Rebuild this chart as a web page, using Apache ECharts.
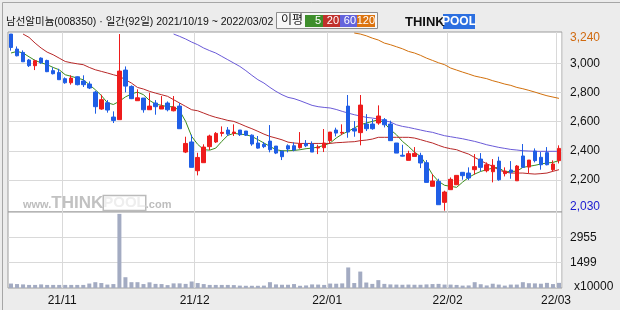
<!DOCTYPE html>
<html><head><meta charset="utf-8">
<script src="https://cdn.jsdelivr.net/npm/echarts@6/dist/echarts.min.js"></script>
<style>html,body{margin:0;padding:0;background:#ececec}#c{width:620px;height:310px}</style>
</head><body><div id="c"></div>
<script>
// trading days per month (2021/10/19 ~ 2022/03/02, 92 days)
const monthDays = [
  ['2021/10', [19,20,21,22,25,26,27,28,29]],
  ['2021/11', [1,2,3,4,5,8,9,10,11,12,15,16,17,18,19,22,23,24,25,26,29,30]],
  ['2021/12', [1,2,3,6,7,8,9,10,13,14,15,16,17,20,21,22,23,24,27,28,29,30]],
  ['2022/01', [3,4,5,6,7,10,11,12,13,14,17,18,19,20,21,24,25,26,27,28]],
  ['2022/02', [3,4,7,8,9,10,11,14,15,16,17,18,21,22,23,24,25,28]],
  ['2022/03', [2]]
];
const opens  = [3201,3098,3075,3023,2984,3036,3020,2950,2938,2895,2867,2908,2879,2858,2803,2687,2730,2632,2614,2954,2842,2744,2762,2682,2728,2687,2728,2675,2707,2392,2461,2264,2319,2429,2461,2520,2543,2520,2543,2536,2508,2454,2445,2467,2433,2399,2435,2435,2422,2451,2447,2420,2422,2470,2543,2522,2707,2552,2525,2584,2584,2591,2614,2584,2454,2370,2335,2362,2369,2319,2157,2191,2047,2134,2168,2253,2248,2271,2344,2264,2257,2330,2244,2269,2195,2365,2289,2399,2356,2388,2271,2333];
const closes = [3109,3052,3011,2984,3018,3004,2943,2929,2888,2867,2899,2854,2854,2831,2703,2751,2680,2609,2947,2844,2758,2764,2682,2707,2703,2707,2682,2700,2552,2451,2287,2355,2426,2502,2520,2527,2515,2529,2511,2508,2447,2419,2429,2408,2385,2360,2413,2406,2447,2435,2392,2426,2454,2529,2522,2527,2529,2536,2714,2552,2552,2639,2579,2470,2385,2364,2381,2383,2317,2184,2193,2031,2118,2205,2232,2230,2214,2292,2287,2305,2301,2202,2262,2253,2296,2287,2337,2333,2305,2305,2310,2417];
const lows   = [3087,3048,3011,2975,2954,2997,2940,2924,2888,2860,2854,2849,2838,2824,2655,2682,2662,2591,2614,2801,2755,2744,2662,2682,2648,2687,2671,2671,2552,2385,2287,2232,2319,2406,2454,2499,2502,2502,2502,2502,2435,2415,2419,2390,2378,2337,2390,2397,2415,2426,2392,2378,2392,2454,2499,2508,2490,2497,2438,2536,2545,2579,2561,2470,2385,2362,2335,2362,2282,2184,2157,2031,1990,2134,2168,2202,2200,2237,2260,2253,2184,2195,2225,2209,2195,2287,2248,2321,2271,2301,2260,2314];
const highs  = [3201,3116,3089,3030,3025,3041,3025,2972,2963,2904,2918,2911,2918,2876,2812,2785,2748,2671,3201,2979,2849,2822,2762,2799,2748,2776,2739,2776,2728,2497,2511,2387,2445,2511,2529,2568,2563,2582,2543,2536,2513,2502,2461,2577,2433,2399,2445,2458,2529,2474,2465,2442,2550,2529,2559,2582,2783,2604,2783,2652,2618,2712,2625,2607,2454,2442,2401,2426,2387,2337,2241,2209,2127,2218,2232,2253,2287,2378,2385,2321,2344,2360,2287,2330,2303,2447,2337,2417,2392,2426,2335,2438];
const ma5   = [3071,3082,3071,3045,3020,3004,2991,2972,2956,2922,2911,2899,2888,2854,2819,2780,2730,2718,2740,2770,2790,2803,2785,2746,2721,2712,2703,2703,2675,2602,2499,2445,2408,2405,2419,2465,2506,2520,2515,2511,2499,2477,2454,2431,2408,2401,2401,2403,2408,2415,2419,2426,2438,2454,2488,2515,2534,2557,2579,2591,2602,2614,2591,2545,2511,2465,2431,2392,2362,2305,2237,2191,2164,2157,2150,2186,2218,2241,2259,2271,2282,2287,2255,2260,2260,2287,2294,2301,2310,2317,2321,2333];
const ma20  = [null,null,3201,3178,3139,3105,3077,3059,3036,3013,3004,2997,2991,2972,2956,2945,2934,2922,2911,2888,2865,2835,2824,2808,2796,2785,2774,2751,2728,2705,2682,2675,2659,2643,2630,2620,2609,2602,2586,2568,2552,2534,2515,2499,2488,2476,2460,2454,2451,2451,2451,2451,2451,2451,2456,2458,2461,2463,2470,2474,2481,2493,2493,2493,2493,2493,2493,2488,2477,2465,2454,2438,2424,2415,2408,2392,2378,2355,2333,2312,2294,2269,2255,2248,2248,2248,2244,2241,2244,2248,2260,2271];
const ma60  = [null,null,null,null,null,null,null,null,null,null,null,null,null,null,null,null,null,null,null,null,null,null,null,null,null,null,null,3201,3185,3167,3146,3128,3105,3087,3071,3048,3025,3002,2979,2950,2918,2888,2865,2835,2808,2785,2767,2758,2744,2728,2712,2703,2698,2694,2684,2671,2659,2648,2639,2630,2625,2618,2607,2598,2579,2568,2561,2552,2543,2534,2527,2515,2504,2497,2490,2483,2474,2465,2454,2442,2433,2424,2417,2410,2406,2401,2399,2397,2397,2397,2397,2397];
const ma120 = [null,null,null,null,null,null,null,null,null,null,null,null,null,null,null,null,null,null,null,null,null,null,null,null,null,null,null,null,null,null,null,null,null,null,null,null,null,null,null,null,null,null,null,null,null,null,null,null,null,null,null,null,null,null,null,null,null,3208,3201,3189,3173,3160,3139,3128,3114,3100,3082,3071,3055,3036,3020,3004,2991,2968,2954,2940,2927,2913,2904,2895,2881,2870,2858,2849,2835,2826,2815,2803,2790,2778,2769,2760];
// volume (x10000)
const volumes = [260,230,210,180,180,210,180,180,180,180,180,180,180,260,340,290,200,230,4330,630,340,340,230,330,240,230,170,270,270,240,380,290,230,180,180,180,180,170,140,130,130,130,140,340,210,190,190,230,130,150,210,200,180,260,250,270,1200,290,960,320,240,460,240,210,200,190,200,190,190,210,230,240,200,200,180,140,150,340,220,150,250,200,140,200,200,340,280,270,250,300,230,300];
const priceTicks = [3000,2800,2600,2400,2200];
const priceMaxLabel = 3240, priceMinLabel = 2030;
const volTicks = [2955,1499];

const cats = [];
monthDays.forEach(([ym, days]) => days.forEach(d => cats.push(ym + '/' + String(d).padStart(2,'0'))));
const monthLabel = {};
cats.forEach((c, i) => { if (i > 0 && c.slice(0,7) !== cats[i-1].slice(0,7)) monthLabel[i] = c.slice(2,4) + '/' + c.slice(5,7); });
const isMonthStart = i => monthLabel[i] !== undefined;
const candles = opens.map((o, i) => [o, closes[i], lows[i], highs[i]]);

const FONT = '"Liberation Sans", "Noto Sans CJK KR", sans-serif';
const GRID = '#d9d9d9';
const fmt = v => String(v).replace(/\B(?=(\d{3})+(?!\d))/g, ',');

const chart = echarts.init(document.getElementById('c'), null, {renderer: 'canvas'});
chart.setOption({
  animation: false,
  backgroundColor: '#ececec',
  textStyle: {fontFamily: FONT},
  grid: [
    {left: 8, right: 58, top: 32, height: 180, show: true, backgroundColor: '#fff', borderColor: '#9c9c9c', borderWidth: 1},
    {left: 8, right: 58, top: 212, height: 76, show: true, backgroundColor: '#fff', borderColor: '#9c9c9c', borderWidth: 1}
  ],
  xAxis: [
    {type: 'category', gridIndex: 0, data: cats, boundaryGap: true,
     axisLine: {show: false}, axisTick: {show: false}, axisLabel: {show: false},
     splitLine: {show: true, interval: i => isMonthStart(i), lineStyle: {color: GRID}}},
    {type: 'category', gridIndex: 1, data: cats, boundaryGap: true,
     axisLine: {show: false}, axisTick: {show: false},
     axisLabel: {show: true, interval: i => isMonthStart(i), formatter: (v, i) => monthLabel[i] || '',
                 color: '#111', fontSize: 12, fontFamily: FONT, margin: 7, padding: [0, 6, 0, 0]},
     splitLine: {show: true, interval: i => isMonthStart(i), lineStyle: {color: GRID}}}
  ],
  yAxis: [
    {type: 'value', gridIndex: 0, position: 'right', min: 1981, max: 3215, scale: true,
     axisLine: {show: false}, axisTick: {show: false, customValues: priceTicks},
     splitLine: {show: true, lineStyle: {color: GRID}},
     axisLabel: {customValues: priceTicks.concat([priceMinLabel]), margin: 8, align: 'left',
                 color: '#111', fontSize: 12, fontFamily: FONT,
                 formatter: v => v === priceMinLabel ? '{lo|' + fmt(v) + '}' : fmt(v),
                 rich: {lo: {color: '#1a1ad0', fontSize: 12, fontFamily: FONT, padding: [4, 0, 0, 0]}}}},
    {type: 'value', gridIndex: 1, position: 'right', min: 0, max: 4440,
     axisLine: {show: false}, axisTick: {show: false, customValues: volTicks},
     splitLine: {show: true, lineStyle: {color: GRID}},
     axisLabel: {customValues: volTicks, margin: 8, align: 'left', color: '#111', fontSize: 12, fontFamily: FONT,
                 formatter: v => String(v)}}
  ],
  series: [
    {type: 'line', name: '5', xAxisIndex: 0, yAxisIndex: 0, data: ma5, showSymbol: false, z: 3,
     lineStyle: {color: '#3c8c1e', width: 1}},
    {type: 'line', name: '20', xAxisIndex: 0, yAxisIndex: 0, data: ma20, showSymbol: false, z: 3,
     lineStyle: {color: '#b82828', width: 1}},
    {type: 'line', name: '60', xAxisIndex: 0, yAxisIndex: 0, data: ma60, showSymbol: false, z: 3,
     lineStyle: {color: '#6a5ad8', width: 1}},
    {type: 'line', name: '120', xAxisIndex: 0, yAxisIndex: 0, data: ma120, showSymbol: false, z: 3,
     lineStyle: {color: '#d2700c', width: 1}},
    {type: 'candlestick', xAxisIndex: 0, yAxisIndex: 0, data: candles, barWidth: 4, z: 4,
     itemStyle: {color: '#ee1c1c', color0: '#1f5ee6', borderColor: '#ee1c1c', borderColor0: '#1f5ee6', borderWidth: 1}},
    {type: 'bar', xAxisIndex: 1, yAxisIndex: 1, data: volumes, barWidth: 4, z: 3,
     itemStyle: {color: '#a3abc2'}}
  ],
  graphic: [
    {type: 'rect', left: 0, top: 0, shape: {width: 619, height: 309}, style: {fill: 'none', stroke: '#a6a6a6', lineWidth: 1}, z: 0, silent: true},
    {type: 'text', x: 6, y: 22, style: {text: '남선알미늄(008350) · 일간(92일) 2021/10/19 ~ 2022/03/02', fill: '#111', font: '10.5px ' + FONT, verticalAlign: 'middle'}},
    {type: 'rect', shape: {x: 276.5, y: 12.5, width: 101, height: 16}, style: {fill: '#f7f7f7', stroke: '#8c8c8c', lineWidth: 1}},
    {type: 'text', x: 281, y: 21, style: {text: '이평', fill: '#111', font: '12px ' + FONT, verticalAlign: 'middle'}},
    {type: 'rect', shape: {x: 305, y: 15, width: 18, height: 12}, style: {fill: '#3e8e2c'}},
    {type: 'rect', shape: {x: 323, y: 15, width: 17, height: 12}, style: {fill: '#c0302c'}},
    {type: 'rect', shape: {x: 340, y: 15, width: 17, height: 12}, style: {fill: '#6464dc'}},
    {type: 'rect', shape: {x: 357, y: 15, width: 18, height: 12}, style: {fill: '#dc7410'}},
    {type: 'text', x: 321, y: 21, style: {text: '5', fill: '#fff', font: '11px ' + FONT, align: 'right', verticalAlign: 'middle'}},
    {type: 'text', x: 339, y: 21, style: {text: '20', fill: '#fff', font: '11px ' + FONT, align: 'right', verticalAlign: 'middle'}},
    {type: 'text', x: 356, y: 21, style: {text: '60', fill: '#fff', font: '11px ' + FONT, align: 'right', verticalAlign: 'middle'}},
    {type: 'text', x: 375, y: 21, style: {text: '120', fill: '#fff', font: '11px ' + FONT, align: 'right', verticalAlign: 'middle'}},
    {type: 'rect', shape: {x: 443, y: 14, width: 32, height: 15}, style: {fill: '#2c6fe0'}},
    {type: 'text', x: 405, y: 22, style: {text: 'THINK', fill: '#111', font: 'bold 13px "Liberation Sans", sans-serif', verticalAlign: 'middle'}},
    {type: 'text', x: 459, y: 22, style: {text: 'POOL', fill: '#fff', font: 'bold 12px "Liberation Sans", sans-serif', align: 'center', verticalAlign: 'middle'}},
    {type: 'text', x: 570, y: 38, style: {text: fmt(priceMaxLabel), fill: '#d06a10', font: '12px ' + FONT, verticalAlign: 'middle'}},
    {type: 'text', x: 574, y: 287, style: {text: 'x10000', fill: '#111', font: '12px ' + FONT, verticalAlign: 'middle'}},
    {type: 'text', x: 23, y: 203, z: 1, silent: true,
     style: {text: '{a|www.}{b|THINK}{c|POOL}{a|.com}', verticalAlign: 'middle',
             rich: {a: {fill: '#bdbdbd', font: 'bold 11px "Liberation Sans", sans-serif', padding: [4, 0, 0, 0]},
                    b: {fill: '#c2c2c2', font: 'bold 17px "Liberation Sans", sans-serif'},
                    c: {fill: '#eeeeee', textBorderColor: '#bbbbbb', textBorderWidth: 1.5, font: 'bold 15px "Liberation Sans", sans-serif'}}}}
  ]
});
</script>
</body></html>
